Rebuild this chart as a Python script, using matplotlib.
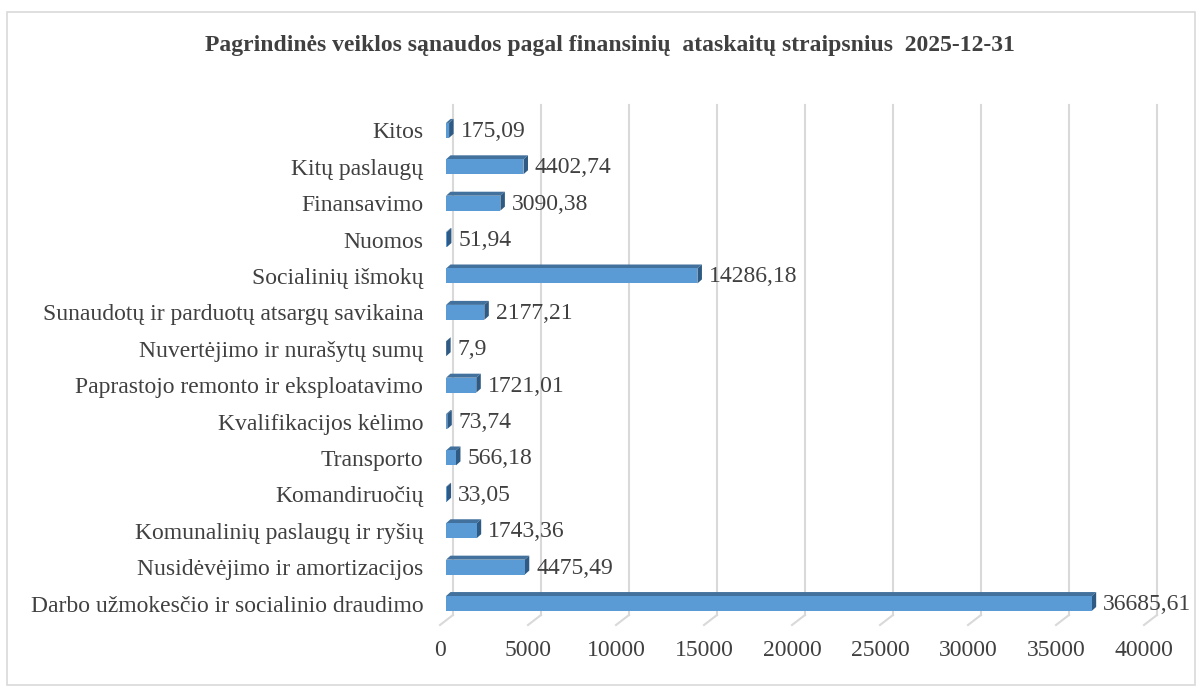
import matplotlib
matplotlib.use("Agg")
import matplotlib.pyplot as plt
from matplotlib.patches import Polygon, Rectangle
from matplotlib.transforms import ScaledTranslation
import numpy as np

categories = [
    "Darbo užmokesčio ir socialinio draudimo",
    "Nusidėvėjimo ir amortizacijos",
    "Komunalinių paslaugų ir ryšių",
    "Komandiruočių",
    "Transporto",
    "Kvalifikacijos kėlimo",
    "Paprastojo remonto ir eksploatavimo",
    "Nuvertėjimo ir nurašytų sumų",
    "Sunaudotų ir parduotų atsargų savikaina",
    "Socialinių išmokų",
    "Nuomos",
    "Finansavimo",
    "Kitų paslaugų",
    "Kitos",
]
values = [36685.61, 4475.49, 1743.36, 33.05, 566.18, 73.74, 1721.01, 7.9,
          2177.21, 14286.18, 51.94, 3090.38, 4402.74, 175.09]
value_labels = ["36685,61", "4475,49", "1743,36", "33,05", "566,18", "73,74", "1721,01",
                "7,9", "2177,21", "14286,18", "51,94", "3090,38", "4402,74", "175,09"]
xticks = [0, 5000, 10000, 15000, 20000, 25000, 30000, 35000, 40000]
title = "Pagrindinės veiklos sąnaudos pagal finansinių  ataskaitų straipsnius  2025-12-31"

W, H = 1202, 689
DPI = 100
plt.rcParams['font.family'] = ['Liberation Serif', 'DejaVu Serif']
TXT = "#404040"
FRONT = "#5B9BD5"
TOP = "#41719C"
SIDE = "#2E5A84"
GRID = "#D9D9D9"
FS = 17

fig = plt.figure(figsize=(W / DPI, H / DPI), dpi=DPI)
fig.patch.set_facecolor("white")

# axes front plane in pixels
x0p, x1p = 440, 1144
ybot, ytop = 625, 115
ax = fig.add_axes([x0p / W, (H - ybot) / H, (x1p - x0p) / W, (ybot - ytop) / H])
ax.set_xlim(0, 40000)
ax.set_ylim(-0.453, 13.56)
for s in ax.spines.values():
    s.set_visible(False)
ax.patch.set_alpha(0)

ypos = np.arange(len(categories))
ax.set_yticks(ypos)
ax.set_yticklabels(categories, fontsize=FS, color=TXT)
ax.set_xticks(xticks)
ax.set_xticklabels([str(t) for t in xticks], fontsize=FS, color=TXT)
ax.tick_params(axis="both", length=0)
ax.tick_params(axis="y", pad=12)
ax.tick_params(axis="x", pad=11)
for lab in ax.get_yticklabels():
    lab.set_transform(lab.get_transform() + ScaledTranslation(0, 5 / DPI, fig.dpi_scale_trans))

# back wall gridlines (offset) + floor diagonals
gdx, gdy = 13, 10
goff = ax.transData + ScaledTranslation(gdx / DPI, gdy / DPI, fig.dpi_scale_trans)
ymin, ymax = ax.get_ylim()
for t in xticks:
    ax.plot([t, t], [ymin, ymax], color=GRID, lw=1.5, transform=goff, zorder=1, clip_on=False)
fig.canvas.draw()
for t in xticks:
    fx, fy = ax.transData.transform((t, ymin))
    fig.lines.append(plt.Line2D([fx, fx + gdx], [fy, fy + gdy], color=GRID, lw=1.5,
                                transform=None, figure=fig))

# 3D bars
bh = 0.41
fdx, fdy = 6, 5       # bar front offset from front plane
ddx, ddy = 4.5, 4     # bar depth
for y, v, lbl in zip(ypos, values, value_labels):
    xa, ya = ax.transData.transform((0, y - bh / 2))
    xb, yb = ax.transData.transform((v, y + bh / 2))
    xa += fdx; xb += fdx; ya += fdy; yb += fdy
    front = [(xa, ya), (xb, ya), (xb, yb), (xa, yb)]
    top = [(xa, yb), (xb, yb), (xb + ddx, yb + ddy), (xa + ddx, yb + ddy)]
    side = [(xb, ya), (xb + ddx, ya + ddy), (xb + ddx, yb + ddy), (xb, yb)]
    for pts, c in ((top, TOP), (side, SIDE), (front, FRONT)):
        fig.patches.append(Polygon(pts, closed=True, facecolor=c, edgecolor="none",
                                   transform=None, figure=fig, zorder=3))
    fig.text((xb + ddx + 7) / W, ((ya + yb) / 2 - 1) / H, lbl, fontsize=FS, color=TXT,
             ha="left", va="center")

fig.text(610 / W, (H - 46) / H, title, fontsize=17, fontweight="bold", color=TXT,
         ha="center", va="center")

fig.patches.append(Rectangle((7 / W, 4 / H), (1195 - 7) / W, (677 - 4) / H,
                             transform=fig.transFigure, fill=False, edgecolor=GRID,
                             lw=1.2, figure=fig))

fig.savefig("out.png", dpi=DPI, facecolor="white")
